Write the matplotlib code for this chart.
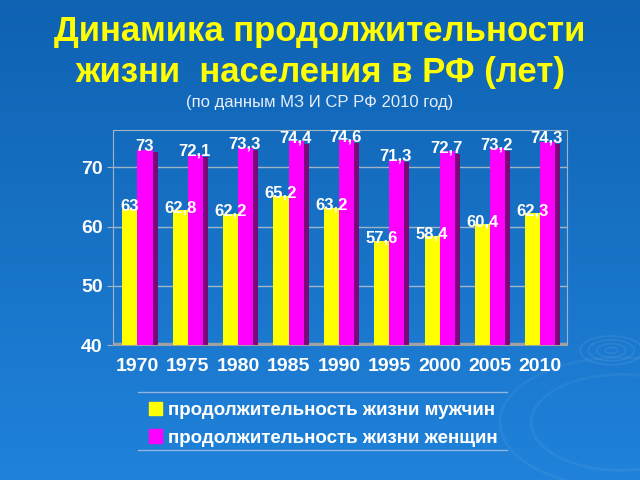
import numpy as np
import matplotlib
matplotlib.use('Agg')
import matplotlib.pyplot as plt
import matplotlib.patches as mpatches
from matplotlib.patches import Ellipse

plt.rcParams['font.family'] = ['Liberation Sans', 'DejaVu Sans']

years = ['1970', '1975', '1980', '1985', '1990', '1995', '2000', '2005', '2010']
men = [63, 62.8, 62.2, 65.2, 63.2, 57.6, 58.4, 60.4, 62.3]
women = [73, 72.1, 73.3, 74.4, 74.6, 71.3, 72.7, 73.2, 74.3]
men_labels = ['63', '62,8', '62,2', '65,2', '63,2', '57,6', '58,4', '60,4', '62,3']
women_labels = ['73', '72,1', '73,3', '74,4', '74,6', '71,3', '72,7', '73,2', '74,3']
yticks = [40, 50, 60, 70]

fig = plt.figure(figsize=(6.4, 4.8), dpi=100)

# background gradient
bg = fig.add_axes([0, 0, 1, 1], zorder=-10)
grad = np.linspace(0, 1, 256).reshape(-1, 1)
top = np.array([15, 98, 178]) / 255
bot = np.array([32, 130, 218]) / 255
img = top + (bot - top) * grad[:, :, None]
bg.imshow(img, aspect='auto', extent=[0, 1, 0, 1], origin='upper')
# faint ripples
for r in [0.015, 0.035, 0.055, 0.075]:
    bg.add_patch(Ellipse((0.955, 0.27), r * 1.3, r * 0.8, fill=False,
                         ec=(1, 1, 1, 0.08), lw=1.2))
for r in [0.2, 0.27]:
    bg.add_patch(Ellipse((0.97, 0.12), r * 1.4, r * 1.0, fill=False,
                         ec=(1, 1, 1, 0.05), lw=2))
bg.set_xlim(0, 1)
bg.set_ylim(0, 1)
bg.axis('off')

fig.text(0.5, 0.935, 'Динамика продолжительности', ha='center', va='center',
         color='#ffff00', fontsize=25, fontweight='bold')
fig.text(0.5, 0.848, 'жизни  населения в РФ (лет)', ha='center', va='center',
         color='#ffff00', fontsize=25, fontweight='bold')
fig.text(0.5, 0.787, '(по данным МЗ И СР РФ 2010 год)', ha='center', va='center',
         color='#e8eef8', fontsize=12)

ax = fig.add_axes([0.177, 0.281, 0.709, 0.448])
ax.set_facecolor('none')
x = np.arange(len(years))
w = 0.3
d = 0.1

# 3D-ish side faces
ax.bar(x + w + d / 2, np.array(women) - 40 - 0.4, width=d, bottom=40,
       color='#7a0a7a', zorder=2)
ax.bar(x - w / 2, np.array(men) - 40, width=w, bottom=40,
       color='#ffff00', zorder=3)
ax.bar(x + w / 2, np.array(women) - 40, width=w, bottom=40,
       color='#ff00ff', zorder=3)

for i in range(len(years)):
    ax.text(x[i] - 0.15, men[i] + 0.4, men_labels[i], ha='center', va='center',
            color='white', fontsize=12, fontweight='bold', zorder=5)
    ax.text(x[i] + 0.13, women[i] + 0.6, women_labels[i], ha='center', va='center',
            color='white', fontsize=12, fontweight='bold', zorder=5)

ax.set_xlim(-0.48, 8.53)
ax.set_ylim(40, 76.3)
ax.set_yticks(yticks)
ax.set_xticks(x)
ax.set_xticklabels(years)
ax.grid(axis='y', color='#a0b4c8', lw=1, zorder=0)
ax.axhline(40.15, color='#a0a0a0', lw=2.5, zorder=1)
for s in ['top', 'right', 'left']:
    ax.spines[s].set_color('#a0b4c8')
ax.spines['bottom'].set_color('#a0a0a0')
ax.tick_params(axis='y', colors='white', labelsize=14, length=4, color='#a0b4c8')
ax.tick_params(axis='x', colors='white', labelsize=14, length=0, pad=9)
for lab in ax.get_xticklabels() + ax.get_yticklabels():
    lab.set_fontweight('bold')

# legend
handles = [mpatches.Patch(color='#ffff00', label='продолжительность жизни мужчин'),
           mpatches.Patch(color='#ff00ff', label='продолжительность жизни женщин')]
leg = fig.legend(handles=handles, loc='center', bbox_to_anchor=(0.505, 0.116),
                 frameon=False, handlelength=0.7, handleheight=0.7,
                 handletextpad=0.3, labelspacing=0.55,
                 prop={'size': 13.5, 'weight': 'bold'})
for t in leg.get_texts():
    t.set_color('white')
fig.add_artist(plt.Line2D([0.216, 0.792], [0.183, 0.183], color='#8fb4e0', lw=1))
fig.add_artist(plt.Line2D([0.216, 0.792], [0.062, 0.062], color='#8fb4e0', lw=1))

plt.savefig('out.png', dpi=100)
